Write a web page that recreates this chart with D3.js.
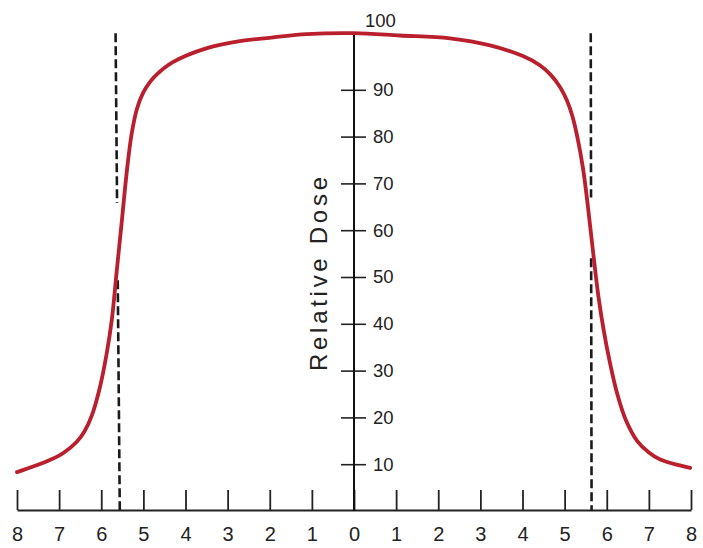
<!DOCTYPE html>
<html>
<head>
<meta charset="utf-8">
<script src="https://cdn.jsdelivr.net/npm/d3@7"></script>
<style>
  html, body { margin: 0; padding: 0; background: #fff; }
  svg { display: block; }
  text { font-family: "Liberation Sans", Arial, Helvetica, sans-serif; fill: #222; }
</style>
</head>
<body>
<svg id="chart" width="703" height="548"></svg>
<script>
// ---- data ----
const positions = [-8,-7.22,-6.9,-6.58,-6.40,-6.22,-6.03,-5.87,-5.75,-5.63,-5.51,-5.39,-5.28,-5.15,-5.01,-4.85,-4.68,-4.30,-3.49,-2.71,-1.92,-1.12,0,1.09,2.28,3.23,4.01,4.42,4.66,4.89,5.05,5.18,5.30,5.44,5.56,5.68,5.80,5.93,6.08,6.25,6.45,6.72,7.0,7.27,7.98];
const doses     = [8.3,10.9,12.4,14.8,17.0,20.5,26.5,33.7,40.8,51.5,62.1,72.8,80.5,86.0,89.3,91.6,93.3,95.9,98.9,100.4,101.2,101.9,102.1,101.6,101.0,99.5,97.2,95.2,93.3,90.6,87.8,84.5,80.0,73.0,64.5,55.0,46.0,38.5,31.5,25.0,19.5,15.0,12.5,11.0,9.2];
const xTicks = [-8,-7,-6,-5,-4,-3,-2,-1,0,1,2,3,4,5,6,7,8];
const yTicks = [10,20,30,40,50,60,70,80,90];
const topLabel = "100";
const yTitle = "Relative Dose";
// field edges (dashed lines): [xTop, xBottom], with gap around the crossing [gapTop, gapBottom]
const edgeTopX    = [-5.66, 5.62];
const edgeBottomX = [-5.56, 5.64];
const edgeGapTop    = [65.8, 67.0];
const edgeGapBottom = [49.3, 54.0];
const edgeTopDose = 102.1;

const svg = d3.select("#chart");
const x = d3.scaleLinear().domain([-8, 8]).range([17, 691]);
const y = d3.scaleLinear().domain([0, 100]).range([511, 43]);

// bottom axis
const xAxis = d3.axisBottom(x)
  .tickValues(xTicks)
  .tickSizeInner(-20)
  .tickSizeOuter(0)
  .tickPadding(17)
  .tickFormat(d => Math.abs(d));
const gx = svg.append("g").attr("transform", `translate(0,${y(0) - 1})`).call(xAxis);
gx.select(".domain").attr("stroke", "#222").attr("stroke-width", 2);
gx.selectAll(".tick line").attr("stroke", "#222").attr("stroke-width", 1.8);
gx.selectAll(".tick text").attr("font-size", 20).attr("fill", "#222")
  .style("font-family", '"Liberation Sans", Arial, sans-serif');

// y axis (central)
const yAxis = d3.axisRight(y).tickValues(yTicks).tickSizeInner(12).tickSizeOuter(0).tickPadding(7);
const gy = svg.append("g").attr("transform", `translate(${x(0)},0)`).call(yAxis);
gy.select(".domain").remove();
gy.selectAll(".tick line").attr("x1", -13).attr("stroke", "#222").attr("stroke-width", 1.6);
gy.selectAll(".tick text").attr("font-size", 18.5).attr("fill", "#222")
  .style("font-family", '"Liberation Sans", Arial, sans-serif');
svg.append("line")
  .attr("x1", x(0)).attr("x2", x(0))
  .attr("y1", y(0)).attr("y2", y(edgeTopDose))
  .attr("stroke", "#111").attr("stroke-width", 2);
svg.append("text")
  .attr("x", x(0) + 11).attr("y", y(edgeTopDose) - 13)
  .attr("font-size", 18.5).attr("dy", "0.35em")
  .text(topLabel);

// y title
svg.append("text")
  .attr("transform", `translate(${x(0) - 27},${y(50) - 3}) rotate(-90)`)
  .attr("text-anchor", "middle")
  .attr("font-size", 24)
  .attr("textLength", 194)
  .attr("lengthAdjust", "spacing")
  .text(yTitle);

// dashed field edges
for (let i = 0; i < 2; i++) {
  const xAt = v => x(edgeTopX[i] + (edgeBottomX[i] - edgeTopX[i]) * (edgeTopDose - v) / edgeTopDose);
  [[edgeTopDose, edgeGapTop[i]], [edgeGapBottom[i], 0]].forEach(([a, b]) => {
    svg.append("line")
      .attr("x1", xAt(a)).attr("y1", y(a))
      .attr("x2", xAt(b)).attr("y2", y(b))
      .attr("stroke", "#1a1a1a").attr("stroke-width", 2.6)
      .attr("stroke-dasharray", "9,4");
  });
}

// profile curve
const pts = positions.map((p, i) => [p, doses[i]]);
svg.append("path")
  .datum(pts)
  .attr("fill", "none")
  .attr("stroke", "#b91f2d")
  .attr("stroke-width", 3.8)
  .attr("stroke-linecap", "round")
  .attr("d", d3.line().x(d => x(d[0])).y(d => y(d[1])).curve(d3.curveCatmullRom.alpha(0.5)));
</script>
</body>
</html>
